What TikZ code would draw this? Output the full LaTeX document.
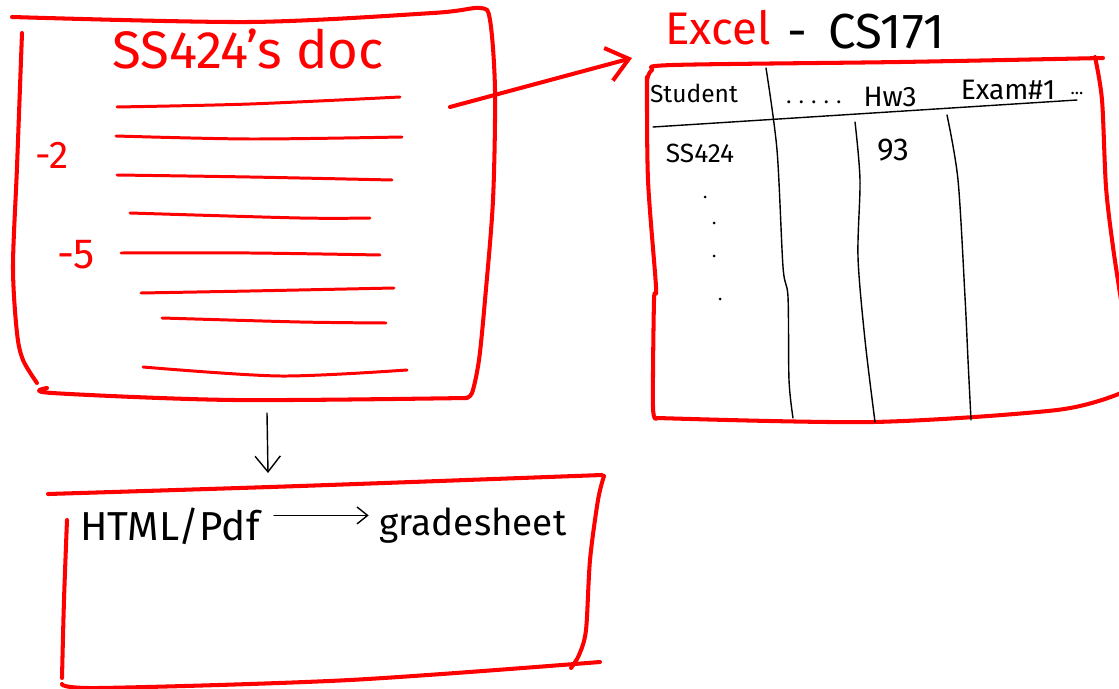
\documentclass[tikz,border=0pt]{standalone}
\usepackage{fontspec}
\setsansfont{Fira Sans}
\usepackage{tikz}
\usetikzlibrary{arrows.meta}
\definecolor{penred}{RGB}{255,0,0}
\tikzset{redpen/.style={draw=penred, line width=2.3pt, line cap=round, line join=round},
  docline/.style={draw=penred, line width=1.7pt, line cap=round},
  inkpen/.style={draw=black, line width=0.8pt, line cap=round, line join=round},
  redtext/.style={text=penred, font=\sffamily, inner sep=0pt},
  inktext/.style={text=black, font=\sffamily, inner sep=0pt},
  barb/.style={-{Straight Barb[length=#1, width=1.6*#1]}}}

\begin{document}
\begin{tikzpicture}[x=0.02cm, y=-0.02cm]
		\useasboundingbox (0,0) rectangle (1119,689);
		% SS424's doc
		\draw[redpen] plot[smooth] coordinates {(12,17) (250,22) (433,13) (480,8) (490,20) (495,90) (493,200) (485,300) (479,360) (472,393) (465,398)};
		\draw[redpen] plot[smooth] coordinates {(47,388) (52,393) (233,400) (467,398)};
		\draw[redpen] plot[smooth] coordinates {(22,33) (17,167) (13,267) (17,333) (23,360) (37,383)};
		\node[redtext, font=\sffamily\fontsize{30}{32}\selectfont] (doctitle) at (248,49) {SS424's doc};
		\draw[docline] plot[smooth] coordinates {(117,107) (250,104) (400,97)};
		\draw[docline] plot[smooth] coordinates {(116,136) (250,139) (402,137)};
		\draw[docline] plot[smooth] coordinates {(117,175) (250,177) (392,180)};
		\draw[docline] plot[smooth] coordinates {(130,213) (300,218) (370,218)};
		\draw[docline] plot[smooth] coordinates {(121,253) (250,253) (380,255)};
		\draw[docline] plot[smooth] coordinates {(141,293) (250,291) (394,288)};
		\draw[docline] plot[smooth] coordinates {(162,318) (300,322) (386,323)};
		\draw[docline] plot[smooth] coordinates {(143,367) (280,376) (407,370)};
		\node[redtext, font=\sffamily\fontsize{22}{24}\selectfont] (mtwo) at (52,155) {-2};
		\node[redtext, font=\sffamily\fontsize{24}{26}\selectfont] (mfive) at (76,255) {-5};
		% Excel sheet
		\node[redtext, font=\sffamily\fontsize{26}{28}\selectfont] (excel) at (718,28) {Excel};
		\node[inktext, font=\sffamily\fontsize{28}{30}\selectfont] (course) at (866,32) {- \,CS171};
		\draw[redpen] plot[smooth] coordinates {(647,80) (652,70) (673,65) (900,62) (1103,58)};
		\draw[redpen] plot[smooth] coordinates {(1095,57) (1102,100) (1106,187) (1113,247) (1121,300)};
		\draw[redpen] plot[smooth] coordinates {(1121,393) (1057,410) (873,422) (657,418)};
		\draw[redpen] plot[smooth] coordinates {(647,77) (648,180) (656,287) (654,300) (653,407) (657,418)};
		\draw[inkpen] (653,127) -- (1077,100);
		\draw[inkpen] plot[smooth] coordinates {(766,68) (777,150) (783,267) (788,297) (789,380) (793,418)};
		\draw[inkpen] plot[smooth] coordinates {(855,122) (860,180) (858,257) (865,340) (875,422)};
		\draw[inkpen] plot[smooth] coordinates {(947,115) (958,180) (965,297) (968,360) (971,420)};
		\node[inktext, font=\sffamily\fontsize{14}{16}\selectfont] (student) at (694,93) {Student};
		\node[inktext, font=\sffamily\fontsize{12}{14}\selectfont] (more) at (814,102) {. . . . .};
		\node[inktext, font=\sffamily\fontsize{16}{18}\selectfont] (hw) at (890,97) {Hw3};
		\node[inktext, font=\sffamily\fontsize{16}{18}\selectfont] (exam) at (1008,90) {Exam\#1};
		\node[inktext, font=\sffamily\fontsize{10}{12}\selectfont] (rest) at (1077,93) {...};
		\node[inktext, font=\sffamily\fontsize{15}{17}\selectfont] (sid) at (700,153) {SS424};
		\node[inktext, font=\sffamily\fontsize{18}{20}\selectfont] (grade) at (893,150) {93};
		\foreach \px/\py in {705/197, 714/223, 714/256, 720/299}
			\fill (\px,\py) circle (1.5);
		% doc to Excel
		\coordinate (docout) at (450,107);
		\coordinate (xlin) at (632,58);
		\draw[redpen, barb=12pt] (docout) -- (xlin);
		% doc to web page
		\coordinate (docbot) at (267,413);
		\coordinate (webtop) at (268,473);
		\draw[inkpen, barb=9pt] (docbot) -- (webtop);
		\draw[redpen] plot[smooth] coordinates {(48,494) (300,486) (602,475)};
		\draw[redpen] plot[smooth] coordinates {(604,476) (598,500) (590,560) (586,630) (579,655) (571,668)};
		\draw[redpen] plot[smooth] coordinates {(67,520) (64,600) (62,678)};
		\draw[redpen] plot[smooth] coordinates {(62,684) (100,688) (350,680) (600,662)};
		\node[inktext, font=\sffamily\fontsize{23}{25}\selectfont] (html) at (170,526) {HTML/Pdf};
		\node[inktext, font=\sffamily\fontsize{21}{23}\selectfont] (sheet) at (473,526) {gradesheet};
		\draw[inkpen, barb=6pt] ([xshift=8pt, yshift=6pt]html.east) -- ([xshift=-6pt, yshift=6pt]sheet.west);
		\end{tikzpicture}
\end{document}
